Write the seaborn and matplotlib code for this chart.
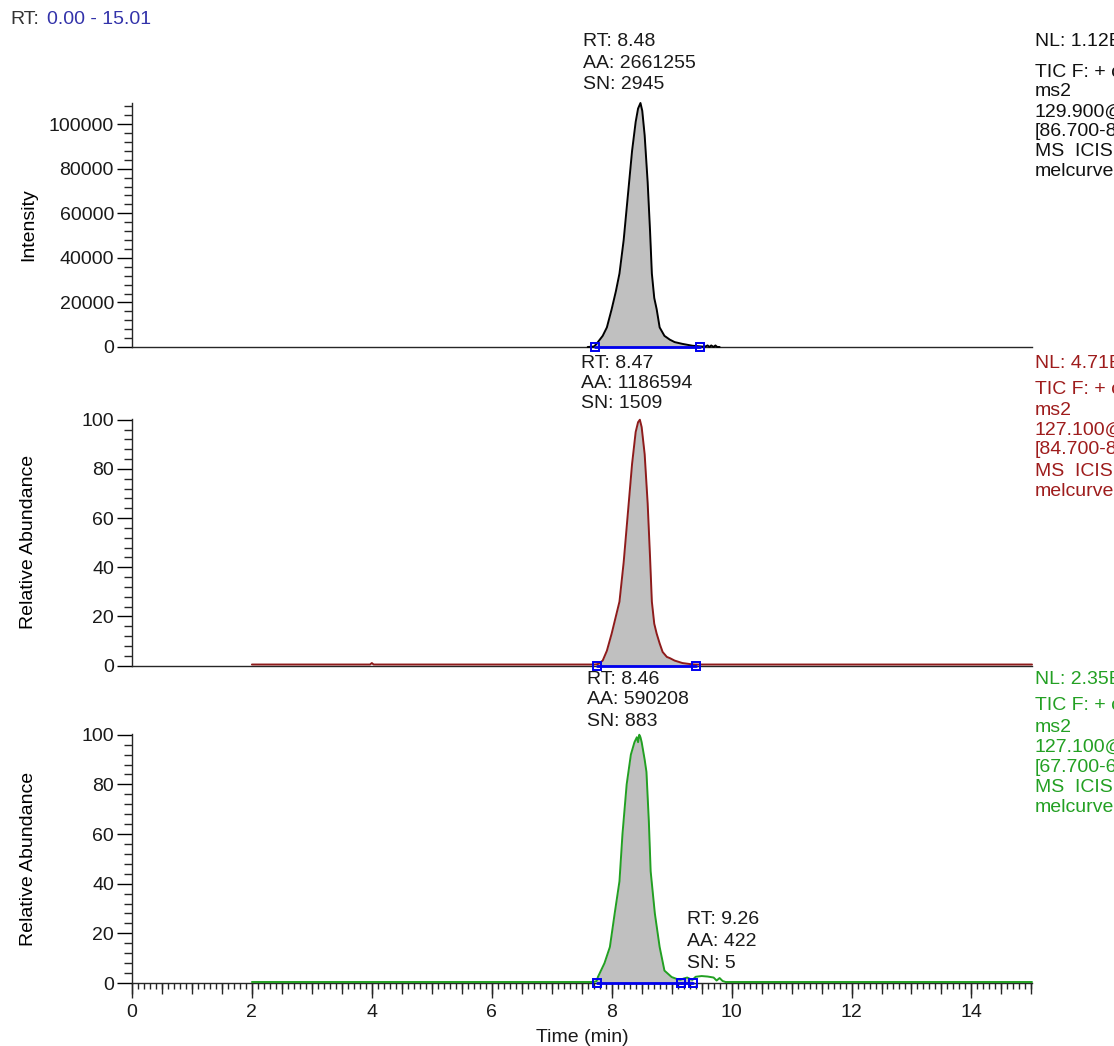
import matplotlib
matplotlib.use("Agg")
import matplotlib.pyplot as plt
import matplotlib.transforms as mtransforms
from matplotlib.ticker import MultipleLocator, NullFormatter
import pandas as pd
import seaborn as sns

# ---------------- chromatogram traces ----------------
# Trace 1: TIC SRM 129.900 -> [86.700-...]  (absolute intensity)
time_1 = [7.60, 7.70, 7.72, 7.77, 7.85, 7.92, 8.00, 8.07, 8.13, 8.20, 8.27, 8.34,
          8.40, 8.44, 8.48, 8.51, 8.55, 8.60, 8.64, 8.67, 8.71, 8.75, 8.80, 8.88,
          8.97, 9.05, 9.18, 9.35, 9.47, 9.55, 9.60, 9.63, 9.66, 9.70, 9.73, 9.76, 9.80]
inten_1 = [0, 200, 600, 2200, 5000, 8800, 17000, 25000, 33000, 48000, 68000, 88000,
           101000, 107000, 109500, 106000, 95000, 74000, 52000, 33000, 22000, 17000,
           8800, 5000, 3300, 2200, 1400, 550, 300, 100, 700, 0, 700, 0, 700, 0, 0]

# Trace 2: TIC SRM 127.100 -> [84.700-...]  (relative abundance)
time_2 = [2.00, 3.00, 3.97, 4.00, 4.03, 5.00, 6.00, 7.00, 7.70, 7.75, 7.78, 7.85,
          7.92, 8.00, 8.07, 8.13, 8.20, 8.27, 8.34, 8.40, 8.44, 8.47, 8.50, 8.55,
          8.60, 8.64, 8.67, 8.71, 8.75, 8.80, 8.85, 8.92, 8.97, 9.05, 9.18, 9.30,
          9.40, 9.55, 11.0, 13.0, 15.01]
abund_2 = [0.4, 0.4, 0.4, 1.0, 0.4, 0.4, 0.4, 0.4, 0.4, 0.5, 0.7, 2.0,
           6.0, 13.0, 20.0, 26.0, 42.0, 62.0, 82.0, 95.0, 99.0, 100.0, 97.0, 86.0,
           66.0, 44.0, 26.0, 17.0, 13.0, 9.0, 5.5, 3.5, 3.0, 2.0, 1.0, 0.6,
           0.4, 0.4, 0.4, 0.4, 0.4]

# Trace 3: TIC SRM 127.100 -> [67.700-...]  (relative abundance)
time_3 = [2.00, 4.00, 6.00, 7.70, 7.75, 7.77, 7.88, 7.97, 8.05, 8.13, 8.18, 8.25,
          8.32, 8.38, 8.42, 8.44, 8.46, 8.48, 8.50, 8.55, 8.58, 8.62, 8.65, 8.72,
          8.80, 8.88, 9.00, 9.10, 9.15, 9.20, 9.26, 9.32, 9.35, 9.40, 9.50, 9.60,
          9.70, 9.75, 9.80, 9.85, 9.90, 11.0, 13.0, 15.01]
abund_3 = [0.4, 0.4, 0.4, 0.4, 0.8, 2.4, 8.0, 14.5, 28.0, 41.0, 60.0, 80.0,
           92.0, 97.0, 99.0, 97.0, 100.0, 99.0, 97.0, 90.0, 85.0, 65.0, 45.0, 28.0,
           14.5, 5.0, 2.4, 1.5, 1.3, 1.8, 2.2, 1.5, 1.3, 2.5, 2.8, 2.6,
           2.2, 1.0, 2.0, 0.8, 0.4, 0.4, 0.4, 0.4]

# integration windows (start, end) of each labelled peak
bounds_1 = [7.72, 9.47]
bounds_2 = [7.75, 9.40]
bounds_3 = [7.75, 9.15]
bounds_3b = [9.15, 9.35]

# peak labels
label_1 = ["RT: 8.48", "AA: 2661255", "SN: 2945"]
label_2 = ["RT: 8.47", "AA: 1186594", "SN: 1509"]
label_3 = ["RT: 8.46", "AA: 590208", "SN: 883"]
label_3b = ["RT: 9.26", "AA: 422", "SN: 5"]

# scan filter headers
header_1 = ["NL: 1.12E5", "TIC F: + c ESI SRM", "ms2", "129.900@cid15.00",
            "[86.700-87.700]", "MS  ICIS", "melcurve01"]
header_2 = ["NL: 4.71E4", "TIC F: + c ESI SRM", "ms2", "127.100@cid15.00",
            "[84.700-85.700]", "MS  ICIS", "melcurve01"]
header_3 = ["NL: 2.35E4", "TIC F: + c ESI SRM", "ms2", "127.100@cid25.00",
            "[67.700-68.700]", "MS  ICIS", "melcurve01"]

x_ticks = [0, 2, 4, 6, 8, 10, 12, 14]
rt_range = [0.00, 15.01]

# ---------------- style ----------------
W, H = 1114, 1046
sns.set_style("ticks")
plt.rcParams["font.family"] = ["Liberation Sans", "DejaVu Sans"]
plt.rcParams["font.size"] = 14
plt.rcParams["axes.linewidth"] = 1.0

FS = 14
TXT = "#1a1a1a"
BLUE = "#0000ee"
FILL = "#c0c0c0"
traces = [
    dict(t=time_1, y=inten_1, color="#000000", tcol="#111111", bounds=[bounds_1],
         ylim=109500, major=20000, minor=4000, ylabel="Intensity",
         top=103, bottom=347, label=label_1, lab_x=583, lab_y=[42, 63, 85],
         header=header_1, head_y=[42, 72, 92, 112, 132, 152, 172]),
    dict(t=time_2, y=abund_2, color="#8e1b1b", tcol="#9e1c1c", bounds=[bounds_2],
         ylim=100.3, major=20, minor=4, ylabel="Relative Abundance",
         top=419, bottom=665.5, label=label_2, lab_x=581, lab_y=[363, 383, 404],
         header=header_2, head_y=[363, 389, 410, 430, 450, 471, 491]),
    dict(t=time_3, y=abund_3, color="#22a022", tcol="#23a023",
         bounds=[bounds_3, bounds_3b],
         ylim=100.3, major=20, minor=4, ylabel="Relative Abundance",
         top=734, bottom=983, label=label_3, lab_x=587, lab_y=[679, 700, 721],
         header=header_3, head_y=[680, 705, 727, 747, 767, 788, 808]),
]

fig = plt.figure(figsize=(W / 100, H / 100), dpi=100)
left_px, right_px = 132, 1032


def ftext(x_px, y_px, s, **kw):
    fig.text(x_px / W, 1 - y_px / H, s, va="center", ha="left", fontsize=FS, **kw)


axes = []
for i, tr in enumerate(traces):
    ax = fig.add_axes([left_px / W, 1 - tr["bottom"] / H,
                       (right_px - left_px) / W, (tr["bottom"] - tr["top"]) / H])
    axes.append(ax)
    df = pd.DataFrame({"time": tr["t"], "signal": tr["y"]})

    # grey integrated area and blue baseline with end markers
    for b0, b1 in tr["bounds"]:
        seg = df[(df["time"] >= b0) & (df["time"] <= b1)]
        ax.fill_between(seg["time"], 0, seg["signal"], color=FILL, lw=0, zorder=1)
        ax.plot([b0, b1], [0, 0], color=BLUE, lw=2.0, zorder=4,
                marker="s", markersize=6, markerfacecolor="none",
                markeredgecolor=BLUE, markeredgewidth=1.4, clip_on=False)

    sns.lineplot(data=df, x="time", y="signal", ax=ax, color=tr["color"],
                 lw=1.4, sort=False, estimator=None, zorder=3, clip_on=False)

    ax.set_xlim(rt_range[0], rt_range[1])
    ax.set_ylim(0, tr["ylim"])
    ax.yaxis.set_major_locator(MultipleLocator(tr["major"]))
    ax.yaxis.set_minor_locator(MultipleLocator(tr["minor"]))
    ax.tick_params(axis="y", which="major", direction="out", length=11, width=1,
                   pad=2, labelsize=FS, colors="#000000", labelcolor=TXT)
    ax.tick_params(axis="y", which="minor", direction="out", length=6, width=1)
    sns.despine(ax=ax, top=True, right=True)
    ax.set_xlabel("")
    ax.set_ylabel(tr["ylabel"], fontsize=FS, color="#000000")
    ax.yaxis.set_label_coords(-(132 - 37) / (right_px - left_px), 0.5)
    ax.grid(False)

    if i < 2:
        ax.tick_params(axis="x", which="both", bottom=False, labelbottom=False)
    else:
        ax.set_xticks(x_ticks)
        ax.xaxis.set_minor_locator(MultipleLocator(0.1))
        ax.tick_params(axis="x", which="major", direction="out", length=11,
                       width=1, pad=4, labelsize=FS, labelcolor=TXT)
        ax.tick_params(axis="x", which="minor", direction="out", length=4, width=1)
        half = ax.secondary_xaxis(0)
        half.xaxis.set_major_locator(MultipleLocator(0.5))
        half.xaxis.set_major_formatter(NullFormatter())
        half.tick_params(axis="x", direction="out", length=8, width=1)
        half.spines["bottom"].set_visible(False)
        ax.set_xlabel("Time (min)", fontsize=FS, color=TXT, labelpad=6)

    # peak label block
    for s, yp in zip(tr["label"], tr["lab_y"]):
        ftext(tr["lab_x"], yp, s, color=TXT)
    # scan header on the right
    for s, yp in zip(tr["header"], tr["head_y"]):
        ftext(1035, yp, s, color=tr["tcol"])

# label of the small second peak in the bottom trace
for s, yp in zip(label_3b, [920, 941, 963]):
    ftext(687, yp, s, color=TXT)

# retention-time range header
ftext(10, 20, "RT:", color="#333333")
ftext(47, 20, f"{rt_range[0]:.2f} - {rt_range[1]:.2f}", color="#3333aa")

fig.savefig("out.png", dpi=100)
